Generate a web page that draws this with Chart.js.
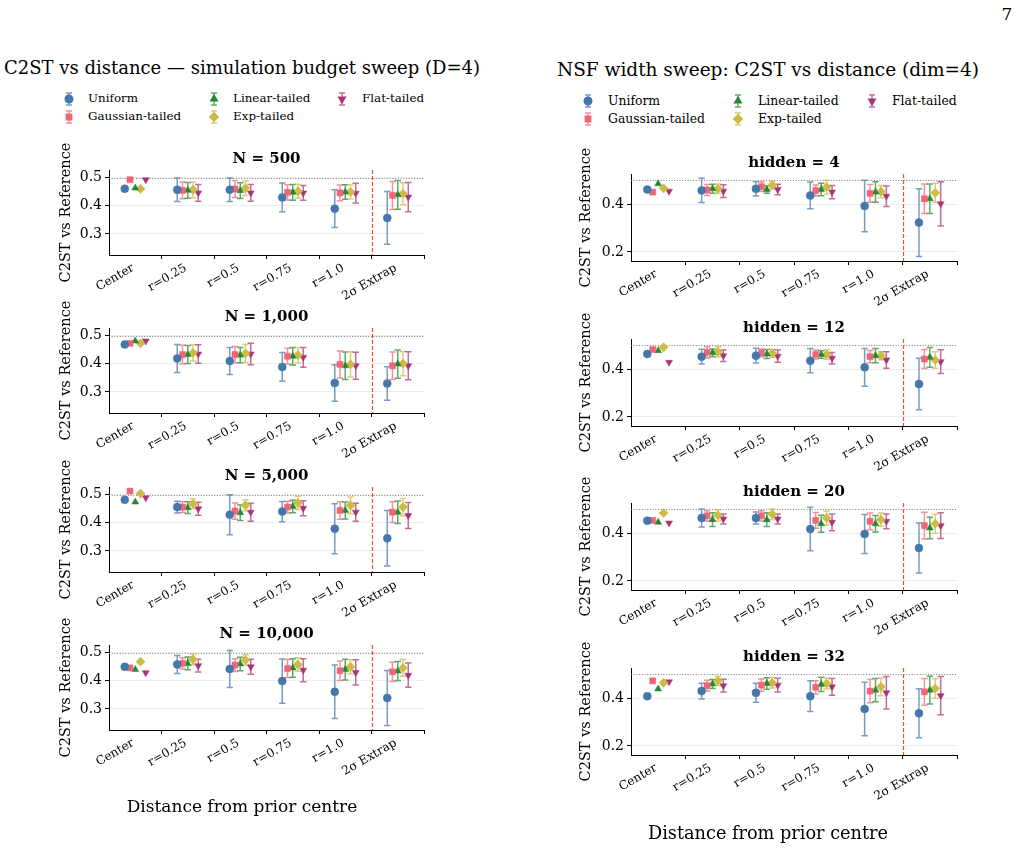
<!DOCTYPE html>
<html lang="en">
<head>
<meta charset="UTF-8">
<title>C2ST vs distance</title>
<script src="https://cdn.jsdelivr.net/npm/chart.js"></script>
<style>
  body { margin: 0; background: #fff; font-family: "DejaVu Serif", serif; }
  #page { position: relative; width: 1019px; height: 851px; overflow: hidden; }
  .txt { position: absolute; white-space: nowrap; transform: translate(-50%, -50%); line-height: 1; color: #000; }
  canvas.plot { position: absolute; }
  .legtxt { position: absolute; white-space: nowrap; transform: translateY(-50%); line-height: 1; }
  canvas.sym { position: absolute; }
</style>
</head>
<body>
<div id="page"></div>
<script>
const xLabels = ['Center', 'r=0.25', 'r=0.5', 'r=0.75', 'r=1.0', '2σ Extrap'];
const seriesNames = ['Uniform', 'Gaussian-tailed', 'Linear-tailed', 'Exp-tailed', 'Flat-tailed'];
const seriesColors = ['#4477AA', '#EE6677', '#228833', '#CCBB44', '#AA3377'];
const seriesStyles = ['circle', 'rect', 'triangle', 'rectRot', 'triangle'];
const seriesRotation = [0, 0, 0, 0, 180];
const xOffsets = [-0.2, -0.1, 0, 0.1, 0.2];

// budget sweep, rows = Uniform, Gaussian, Linear, Exp, Flat
const n500Mean = [
  [0.461, 0.457, 0.457, 0.430, 0.390, 0.357],
  [0.493, 0.455, 0.460, 0.448, 0.446, 0.437],
  [0.463, 0.455, 0.454, 0.448, 0.449, 0.439],
  [0.460, 0.457, 0.463, 0.452, 0.449, 0.443],
  [0.493, 0.446, 0.446, 0.446, 0.445, 0.431]
];
const n500Err = [
  [0, 0.042, 0.042, 0.051, 0.067, 0.094],
  [0, 0.030, 0.030, 0.027, 0.028, 0.050],
  [0, 0.028, 0.028, 0.028, 0.026, 0.051],
  [0, 0.028, 0.026, 0.025, 0.025, 0.039],
  [0, 0.030, 0.030, 0.026, 0.035, 0.052]
];
const n1000Mean = [
  [0.469, 0.419, 0.410, 0.389, 0.332, 0.330],
  [0.473, 0.433, 0.433, 0.427, 0.398, 0.393],
  [0.481, 0.433, 0.431, 0.427, 0.393, 0.399],
  [0.473, 0.439, 0.437, 0.431, 0.398, 0.401],
  [0.481, 0.435, 0.435, 0.423, 0.393, 0.393]
];
const n1000Err = [
  [0, 0.050, 0.048, 0.051, 0.065, 0.060],
  [0, 0.033, 0.029, 0.028, 0.048, 0.049],
  [0, 0.032, 0.027, 0.031, 0.049, 0.050],
  [0, 0.029, 0.032, 0.027, 0.045, 0.043],
  [0, 0.033, 0.038, 0.035, 0.048, 0.050]
];
const n5000Mean = [
  [0.482, 0.456, 0.429, 0.440, 0.379, 0.345],
  [0.513, 0.456, 0.442, 0.456, 0.444, 0.438],
  [0.474, 0.454, 0.436, 0.458, 0.444, 0.438],
  [0.504, 0.468, 0.462, 0.471, 0.462, 0.456],
  [0.489, 0.450, 0.438, 0.452, 0.438, 0.426]
];
const n5000Err = [
  [0, 0.021, 0.071, 0.036, 0.089, 0.099],
  [0, 0.019, 0.029, 0.021, 0.031, 0.037],
  [0, 0.021, 0.028, 0.022, 0.030, 0.040],
  [0, 0.018, 0.020, 0.024, 0.030, 0.031],
  [0, 0.023, 0.032, 0.027, 0.032, 0.046]
];
const n10000Mean = [
  [0.450, 0.458, 0.442, 0.399, 0.361, 0.339],
  [0.446, 0.462, 0.456, 0.444, 0.436, 0.432],
  [0.440, 0.462, 0.460, 0.446, 0.440, 0.435],
  [0.468, 0.476, 0.474, 0.458, 0.450, 0.446],
  [0.429, 0.454, 0.450, 0.438, 0.430, 0.420]
];
const n10000Err = [
  [0, 0.032, 0.066, 0.079, 0.095, 0.098],
  [0, 0.020, 0.023, 0.032, 0.035, 0.034],
  [0, 0.023, 0.024, 0.033, 0.037, 0.034],
  [0, 0.019, 0.019, 0.024, 0.025, 0.030],
  [0, 0.023, 0.027, 0.041, 0.045, 0.043]
];

// NSF width sweep
const h4Mean = [
  [0.462, 0.458, 0.465, 0.437, 0.393, 0.323],
  [0.451, 0.460, 0.474, 0.458, 0.446, 0.423],
  [0.486, 0.465, 0.462, 0.462, 0.451, 0.423],
  [0.467, 0.465, 0.480, 0.472, 0.453, 0.448],
  [0.455, 0.455, 0.462, 0.451, 0.434, 0.402]
];
const h4Err = [
  [0, 0.051, 0.030, 0.056, 0.108, 0.142],
  [0, 0.023, 0.020, 0.023, 0.037, 0.062],
  [0, 0.019, 0.016, 0.026, 0.043, 0.062],
  [0, 0.020, 0.017, 0.029, 0.026, 0.040],
  [0, 0.027, 0.022, 0.028, 0.043, 0.093]
];
const h12Mean = [
  [0.464, 0.453, 0.457, 0.436, 0.408, 0.338],
  [0.483, 0.471, 0.469, 0.462, 0.453, 0.443],
  [0.478, 0.469, 0.464, 0.462, 0.457, 0.450],
  [0.492, 0.473, 0.467, 0.462, 0.457, 0.439],
  [0.429, 0.457, 0.455, 0.446, 0.439, 0.432]
];
const h12Err = [
  [0, 0.031, 0.031, 0.051, 0.079, 0.108],
  [0, 0.024, 0.016, 0.019, 0.026, 0.040],
  [0, 0.016, 0.019, 0.016, 0.030, 0.041],
  [0, 0.021, 0.017, 0.020, 0.017, 0.035],
  [0, 0.024, 0.026, 0.024, 0.035, 0.050]
];
const h20Mean = [
  [0.453, 0.464, 0.464, 0.418, 0.397, 0.338],
  [0.454, 0.473, 0.473, 0.454, 0.450, 0.432],
  [0.446, 0.457, 0.457, 0.440, 0.440, 0.422],
  [0.485, 0.475, 0.480, 0.464, 0.457, 0.440],
  [0.443, 0.460, 0.460, 0.446, 0.450, 0.432]
];
const h20Err = [
  [0, 0.038, 0.025, 0.091, 0.082, 0.105],
  [0, 0.021, 0.022, 0.033, 0.035, 0.056],
  [0, 0.029, 0.029, 0.036, 0.035, 0.045],
  [0, 0.023, 0.022, 0.029, 0.028, 0.040],
  [0, 0.021, 0.021, 0.035, 0.031, 0.054]
];
const h32Mean = [
  [0.409, 0.430, 0.423, 0.409, 0.355, 0.337],
  [0.473, 0.453, 0.455, 0.446, 0.430, 0.427],
  [0.439, 0.460, 0.462, 0.458, 0.434, 0.434],
  [0.465, 0.473, 0.465, 0.462, 0.448, 0.441],
  [0.469, 0.453, 0.455, 0.448, 0.423, 0.411]
];
const h32Err = [
  [0, 0.033, 0.040, 0.064, 0.112, 0.103],
  [0, 0.023, 0.026, 0.028, 0.049, 0.056],
  [0, 0.019, 0.024, 0.030, 0.049, 0.058],
  [0, 0.019, 0.022, 0.023, 0.037, 0.041],
  [0, 0.027, 0.029, 0.035, 0.068, 0.080]
];

const leftTitles = ['N = 500', 'N = 1,000', 'N = 5,000', 'N = 10,000'];
const rightTitles = ['hidden = 4', 'hidden = 12', 'hidden = 20', 'hidden = 32'];
const leftTicks = [0.3, 0.4, 0.5];
const rightTicks = [0.2, 0.4];

const FONT = '"DejaVu Serif", serif';
const page = document.getElementById('page');

function addText(txt, x, y, size) {
  const d = document.createElement('div');
  d.className = 'txt';
  d.textContent = txt;
  d.style.left = x + 'px';
  d.style.top = y + 'px';
  d.style.fontSize = size + 'px';
  page.appendChild(d);
}

// error bars + reference lines + subplot title
const overlay = {
  id: 'overlay',
  beforeDatasetsDraw(chart) {
    const { ctx, chartArea: a, scales: { x, y } } = chart;
    ctx.save();
    ctx.lineWidth = 1;
    ctx.strokeStyle = 'rgba(110,110,110,0.9)';
    ctx.setLineDash([1, 1.7]);
    const y5 = Math.round(y.getPixelForValue(0.5)) + 0.5;
    ctx.beginPath(); ctx.moveTo(a.left, y5); ctx.lineTo(a.right, y5); ctx.stroke();
    ctx.strokeStyle = '#e8502e';
    ctx.lineWidth = 1.2;
    ctx.setLineDash([4, 2]);
    const xb = Math.round(x.getPixelForValue(4.5)) + 0.5;
    ctx.beginPath(); ctx.moveTo(xb, a.top); ctx.lineTo(xb, a.bottom); ctx.stroke();
    ctx.setLineDash([]);

    chart.data.datasets.forEach((ds, i) => {
      const meta = chart.getDatasetMeta(i);
      ctx.strokeStyle = ds.borderColor;
      ctx.globalAlpha = 0.72;
      ctx.lineWidth = 1.5;
      ds.errors.forEach((e, j) => {
        if (!e) return;
        const px = meta.data[j].x;
        const lo = y.getPixelForValue(ds.data[j].y - e);
        const hi = y.getPixelForValue(ds.data[j].y + e);
        ctx.beginPath();
        ctx.moveTo(px, lo); ctx.lineTo(px, hi);
        ctx.moveTo(px - 3.2, lo); ctx.lineTo(px + 3.2, lo);
        ctx.moveTo(px - 3.2, hi); ctx.lineTo(px + 3.2, hi);
        ctx.stroke();
      });
    });
    ctx.restore();
  },
  afterDraw(chart, args, opts) {
    const { ctx, chartArea: a } = chart;
    ctx.save();
    ctx.font = 'bold 15px ' + FONT;
    ctx.fillStyle = '#000';
    ctx.textAlign = 'center';
    ctx.textBaseline = 'middle';
    ctx.fillText(opts.title, (a.left + a.right) / 2, a.top - 11);
    ctx.restore();
  }
};

function makePlot(box, title, means, errs, yMin, yMax, yTicks) {
  const padTop = 30, padRight = 20, xH = 60;
  const w = box.right - box.left;
  const cv = document.createElement('canvas');
  cv.className = 'plot';
  cv.width = box.yW + w + padRight;
  cv.height = padTop + box.h + xH;
  cv.style.left = (box.left - box.yW) + 'px';
  cv.style.top = (box.top - padTop) + 'px';
  page.appendChild(cv);

  const datasets = seriesNames.map((name, s) => ({
    label: name,
    data: means[s].map((m, i) => ({ x: i + xOffsets[s], y: m })),
    errors: errs[s],
    pointStyle: seriesStyles[s],
    rotation: seriesRotation[s],
    pointRadius: s === 3 ? 4.6 : (s === 1 ? 4.3 : 4),
    backgroundColor: seriesColors[s],
    borderColor: seriesColors[s],
    borderWidth: 0.5,
    showLine: false
  }));

  new Chart(cv, {
    type: 'scatter',
    data: { datasets },
    options: {
      responsive: false,
      animation: false,
      layout: { padding: { left: 0, top: padTop, right: padRight, bottom: 0 } },
      plugins: { legend: { display: false }, tooltip: { enabled: false }, overlay: { title } },
      scales: {
        x: {
          type: 'linear', min: -0.5, max: 5.5,
          afterBuildTicks: ax => { ax.ticks = [0.5, 1.5, 2.5, 3.5, 4.5, 5.5].map(v => ({ value: v })); },
          afterFit: s => { s.height = xH; },
          ticks: {
            autoSkip: false, minRotation: 30, maxRotation: 30,
            labelOffset: -w / 12 - 2, padding: 2,
            color: '#000', font: { family: FONT, size: 12 },
            callback: (v, i) => xLabels[i]
          },
          grid: { drawOnChartArea: false, tickLength: 4, tickColor: '#000', tickWidth: 1 },
          border: { color: '#000', width: 1 }
        },
        y: {
          min: yMin, max: yMax,
          afterBuildTicks: ax => { ax.ticks = yTicks.map(v => ({ value: v })); },
          afterFit: s => { s.width = box.yW; },
          ticks: { color: '#000', padding: 3, font: { family: FONT, size: 14 }, callback: v => v.toFixed(1) },
          grid: { color: 'rgba(0,0,0,0.07)', tickColor: '#000', tickLength: 4, lineWidth: 1 },
          border: { color: '#000', width: 1 },
          title: { display: true, text: 'C2ST vs Reference', color: '#000', font: { family: FONT, size: box.tf }, padding: { top: 4, bottom: 4 } }
        }
      }
    },
    plugins: [overlay]
  });
}

const leftData = [[n500Mean, n500Err], [n1000Mean, n1000Err], [n5000Mean, n5000Err], [n10000Mean, n10000Err]];
const rightData = [[h4Mean, h4Err], [h12Mean, h12Err], [h20Mean, h20Err], [h32Mean, h32Err]];
const leftTops = [170, 328, 487, 645];
const rightTops = [174, 339, 503, 668];

leftData.forEach((d, k) => makePlot({ left: 109, right: 424, top: leftTops[k], h: 85, yW: 55, tf: 14.5 },
  leftTitles[k], d[0], d[1], 0.225, 0.5275, leftTicks));
rightData.forEach((d, k) => makePlot({ left: 631, right: 957, top: rightTops[k], h: 87, yW: 57, tf: 14.5 },
  rightTitles[k], d[0], d[1], 0.162, 0.527, rightTicks));

// figure texts
addText('7', 1007, 14, 17);
addText('C2ST vs distance — simulation budget sweep (D=4)', 242, 68, 18);
addText('NSF width sweep: C2ST vs distance (dim=4)', 768, 70, 18.5);
addText('Distance from prior centre', 242, 806, 17);
addText('Distance from prior centre', 768, 834, 17.7);

// legends (column-major, 3 columns)
function legend(markX, textX, rowY, size) {
  seriesNames.forEach((name, s) => {
    const col = Math.floor(s / 2), row = s % 2;
    const c = document.createElement('canvas');
    c.className = 'sym';
    c.width = 14; c.height = 18;
    c.style.left = (markX[col] - 7) + 'px';
    c.style.top = (rowY[row] - 9) + 'px';
    page.appendChild(c);
    const g = c.getContext('2d');
    g.strokeStyle = seriesColors[s];
    g.globalAlpha = 0.72;
    g.lineWidth = 1.4;
    g.beginPath();
    g.moveTo(7, 3); g.lineTo(7, 15);
    g.moveTo(4, 3); g.lineTo(10, 3);
    g.moveTo(4, 15); g.lineTo(10, 15);
    g.stroke();
    g.globalAlpha = 1;
    g.fillStyle = seriesColors[s];
    Chart.helpers.drawPoint(g, { pointStyle: seriesStyles[s], rotation: seriesRotation[s], radius: s === 3 ? 4.3 : 3.8, borderWidth: 0.5 }, 7, 9);
    g.fill();
    const t = document.createElement('div');
    t.className = 'legtxt';
    t.textContent = name;
    t.style.left = textX[col] + 'px';
    t.style.top = rowY[row] + 'px';
    t.style.fontSize = size + 'px';
    page.appendChild(t);
  });
}
legend([69, 214, 342], [88, 233, 362], [99, 116.7], 11.9);
legend([588, 738, 872], [608, 758, 892], [100.7, 119], 12.4);
</script>
</body>
</html>
